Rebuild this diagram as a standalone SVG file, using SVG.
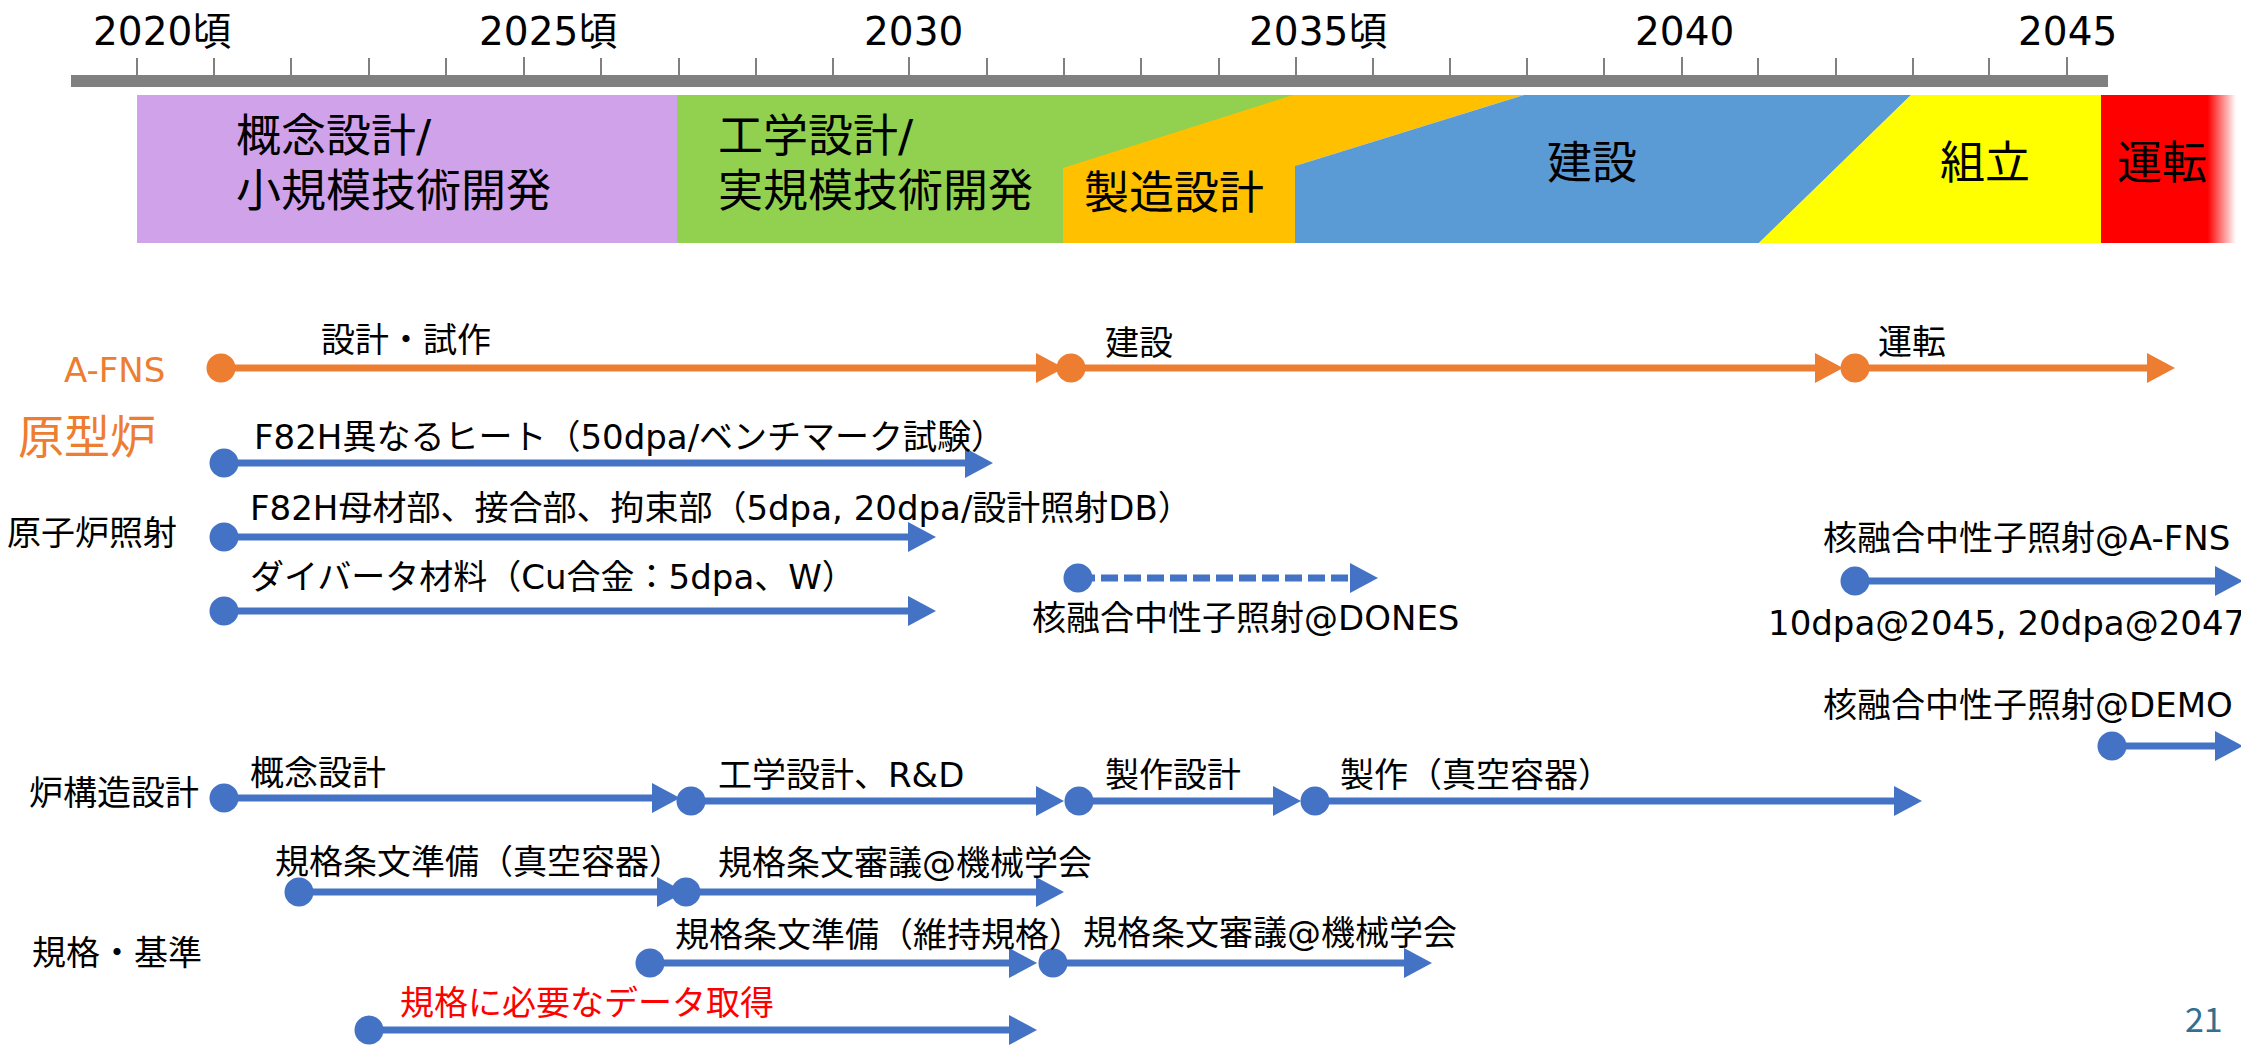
<svg xmlns="http://www.w3.org/2000/svg" width="2241" height="1046" viewBox="0 0 2241 1046">
<style>
text{font-family:"DejaVu Sans","Noto Sans CJK JP",sans-serif;fill:#000}
.yr{font-size:39px}
.band{font-size:45px}
.t{font-size:34px}
.or{fill:#ED7D31}
.red{fill:#FF0000}
.pg{font-family:"Noto Sans CJK JP","Noto Sans",sans-serif;fill:#31708F}
.ln{fill:none;stroke:#4472C4;stroke-width:7;marker-start:url(#dotB);marker-end:url(#arrB)}
.lo{fill:none;stroke:#ED7D31;stroke-width:7;marker-start:url(#dotO);marker-end:url(#arrO)}
.dash{stroke-dasharray:17 6}
.tick{stroke:#808080;stroke-width:2}
</style>
<defs>
<marker id="arrB" markerUnits="userSpaceOnUse" viewBox="0 -15 28 30" refX="0" refY="0" markerWidth="28" markerHeight="30" orient="auto" overflow="visible"><path d="M0,-15 L28,0 L0,15 Z" fill="#4472C4"/></marker>
<marker id="dotB" markerUnits="userSpaceOnUse" viewBox="-15 -15 30 30" refX="0" refY="0" markerWidth="30" markerHeight="30" orient="auto" overflow="visible"><circle r="14.5" fill="#4472C4"/></marker>
<marker id="arrO" markerUnits="userSpaceOnUse" viewBox="0 -15 28 30" refX="0" refY="0" markerWidth="28" markerHeight="30" orient="auto" overflow="visible"><path d="M0,-15 L28,0 L0,15 Z" fill="#ED7D31"/></marker>
<marker id="dotO" markerUnits="userSpaceOnUse" viewBox="-15 -15 30 30" refX="0" refY="0" markerWidth="30" markerHeight="30" orient="auto" overflow="visible"><circle r="14.5" fill="#ED7D31"/></marker>
<linearGradient id="redfade" x1="2101" y1="0" x2="2236" y2="0" gradientUnits="userSpaceOnUse">
<stop offset="0" stop-color="#FF0000"/><stop offset="0.79" stop-color="#FF0000"/><stop offset="1" stop-color="#FFFFFF"/>
</linearGradient>
</defs>

<g id="timeline">
<rect x="71" y="75" width="2037" height="12" fill="#808080"/>
<g class="tick">
<line x1="137" y1="58" x2="137" y2="75"/><line x1="214" y1="58" x2="214" y2="75"/><line x1="291" y1="58" x2="291" y2="75"/><line x1="369" y1="58" x2="369" y2="75"/><line x1="446" y1="58" x2="446" y2="75"/><line x1="524" y1="57" x2="524" y2="75"/><line x1="601" y1="58" x2="601" y2="75"/><line x1="679" y1="58" x2="679" y2="75"/><line x1="756" y1="58" x2="756" y2="75"/><line x1="833" y1="58" x2="833" y2="75"/><line x1="909" y1="57" x2="909" y2="75"/><line x1="987" y1="58" x2="987" y2="75"/><line x1="1064" y1="58" x2="1064" y2="75"/><line x1="1141" y1="58" x2="1141" y2="75"/><line x1="1219" y1="58" x2="1219" y2="75"/><line x1="1296" y1="57" x2="1296" y2="75"/><line x1="1373" y1="58" x2="1373" y2="75"/><line x1="1450" y1="58" x2="1450" y2="75"/><line x1="1527" y1="58" x2="1527" y2="75"/><line x1="1604" y1="58" x2="1604" y2="75"/><line x1="1682" y1="57" x2="1682" y2="75"/><line x1="1758" y1="58" x2="1758" y2="75"/><line x1="1836" y1="58" x2="1836" y2="75"/><line x1="1913" y1="58" x2="1913" y2="75"/><line x1="1989" y1="58" x2="1989" y2="75"/><line x1="2067" y1="57" x2="2067" y2="75"/>
</g>
<text class="yr" x="93" y="45">2020頃</text>
<text class="yr" x="479" y="45">2025頃</text>
<text class="yr" x="864" y="45">2030</text>
<text class="yr" x="1249" y="45">2035頃</text>
<text class="yr" x="1635" y="45">2040</text>
<text class="yr" x="2018" y="45">2045</text>
</g>

<g id="phases">
<g id="phase-concept"><rect x="137" y="95" width="541" height="148" fill="#CFA2EA"/>
<text class="band" x="236" y="152">概念設計/</text><text class="band" x="236" y="207">小規模技術開発</text></g>
<g id="phase-eng"><rect x="677" y="95" width="620" height="148" fill="#92D050"/>
<text class="band" x="718" y="152">工学設計/</text><text class="band" x="718" y="207">実規模技術開発</text></g>
<g id="phase-mfg"><polygon points="1063,243 1063,168 1293,95 1524,95 1295,166 1295,243" fill="#FFC000"/>
<text class="band" x="1084" y="209">製造設計</text></g>
<g id="phase-build"><polygon points="1295,243 1295,166 1524,95 1911,95 1759,243" fill="#5B9BD5"/>
<text class="band" x="1547" y="179">建設</text></g>
<g id="phase-assy"><polygon points="1759,243 1911,95 2102,95 2102,243" fill="#FFFF00"/>
<text class="band" x="1940" y="179">組立</text></g>
<g id="phase-op"><rect x="2101" y="95" width="135" height="148" fill="url(#redfade)"/>
<text class="band" x="2117" y="179">運転</text></g>
</g>

<g id="connectors">
<path class="lo" d="M221,368 H1036"/>
<path class="lo" d="M1071,368 H1815"/>
<path class="lo" d="M1855,368 H2147"/>
<path class="ln" d="M224,463 H965"/>
<path class="ln" d="M224,537 H908"/>
<path class="ln" d="M224,611 H908"/>
<path class="ln dash" d="M1078,578 H1350"/>
<path class="ln" d="M1855,581 H2215"/>
<path class="ln" d="M2112,746 H2215"/>
<path class="ln" d="M224,798 H652"/>
<path class="ln" d="M691,801 H1036"/>
<path class="ln" d="M1079,801 H1273"/>
<path class="ln" d="M1315,801 H1894"/>
<path class="ln" d="M299,892 H657"/>
<path class="ln" d="M686,892 H1036"/>
<path class="ln" d="M650,963 H1009"/>
<path class="ln" d="M1053,963 H1404"/>
<path class="ln" d="M369,1030 H1009"/>
</g>

<g id="labels">
<text class="t or" x="64" y="382">A-FNS</text>
<text class="t" x="321" y="352">設計・試作</text>
<text class="t" x="1105" y="355">建設</text>
<text class="t" x="1878" y="354">運転</text>
<text class="or" x="18" y="453" style="font-size:46px">原型炉</text>
<text class="t" x="254" y="449">F82H異なるヒート（50dpa/ベンチマーク試験）</text>
<text class="t" x="7" y="545">原子炉照射</text>
<text class="t" x="250" y="520">F82H母材部、接合部、拘束部（5dpa, 20dpa/設計照射DB）</text>
<text class="t" x="250" y="589">ダイバータ材料（Cu合金：5dpa、W）</text>
<text class="t" x="1032" y="630">核融合中性子照射@DONES</text>
<text class="t" x="1823" y="550">核融合中性子照射@A-FNS</text>
<text class="t" x="1768" y="635">10dpa@2045, 20dpa@2047</text>
<text class="t" x="1823" y="717">核融合中性子照射@DEMO</text>
<text class="t" x="29" y="805">炉構造設計</text>
<text class="t" x="250" y="785">概念設計</text>
<text class="t" x="718" y="787">工学設計、R&amp;D</text>
<text class="t" x="1105" y="787">製作設計</text>
<text class="t" x="1340" y="787">製作（真空容器）</text>
<text class="t" x="275" y="874">規格条文準備（真空容器）</text>
<text class="t" x="718" y="875">規格条文審議@機械学会</text>
<text class="t" x="32" y="965">規格・基準</text>
<text class="t" x="675" y="947">規格条文準備（維持規格）</text>
<text class="t" x="1083" y="945">規格条文審議@機械学会</text>
<text class="t red" x="400" y="1015">規格に必要なデータ取得</text>
<text class="t pg" x="2185" y="1032">21</text>
</g>
</svg>
